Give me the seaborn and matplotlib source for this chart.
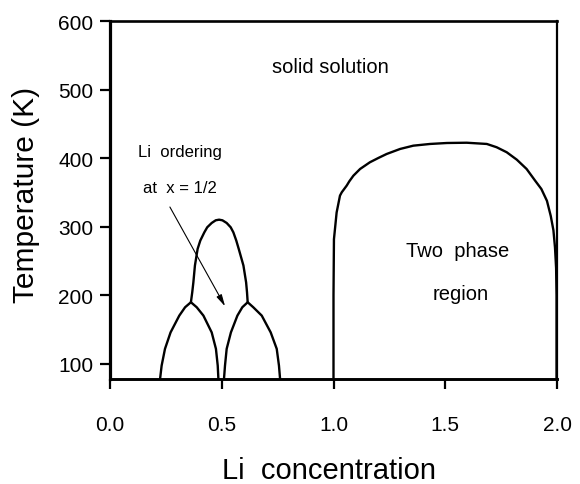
import matplotlib
matplotlib.use("Agg")
import matplotlib.pyplot as plt
import seaborn as sns
import pandas as pd

# ---- data ----
central_x = [0.362, 0.368, 0.373, 0.380, 0.392, 0.404, 0.422, 0.435, 0.455, 0.473, 0.488,
             0.503, 0.522, 0.540, 0.552, 0.565, 0.576, 0.597, 0.609, 0.613, 0.616]
central_T = [190, 204.6, 219, 243.6, 267.8, 280, 292, 299.4, 305.7, 309.6, 310.5,
             309.6, 305.7, 299.4, 292, 280, 267.8, 243.6, 219, 204.6, 190]

left_x = [0.224, 0.231, 0.246, 0.271, 0.310, 0.336, 0.362, 0.388, 0.418, 0.455, 0.474, 0.482, 0.485]
left_T = [78, 97.5, 122, 146, 170.5, 182.7, 190, 182.7, 170.5, 146, 122, 97.5, 78]

right_x = [0.510, 0.5145, 0.522, 0.541, 0.570, 0.592, 0.616, 0.641, 0.679, 0.719, 0.746, 0.756, 0.761]
right_T = [78, 97.5, 122, 146, 170.5, 182.7, 190, 182.7, 170.5, 146, 122, 97.5, 78]

big_x = [1.0, 1.0, 1.002, 1.014, 1.029, 1.037, 1.059, 1.071, 1.089, 1.119, 1.163, 1.201,
         1.238, 1.298, 1.357, 1.432, 1.507, 1.596, 1.686, 1.730, 1.775, 1.820, 1.864,
         1.902, 1.930, 1.955, 1.972, 1.984, 1.991, 1.996, 1.998, 1.998]
big_T = [78, 200, 282, 321, 345.6, 350.5, 360.2, 366.6, 374.7, 384.5, 394.3, 400.6,
         406.4, 413.7, 418.5, 421, 422.4, 422.8, 421, 416.2, 408.9, 398.1, 384.5,
         367.5, 355.3, 338, 316, 295, 270, 240, 200, 78]

x_ticks = [0.0, 0.5, 1.0, 1.5, 2.0]
x_ticklabels = ["0.0", "0.5", "1.0", "1.5", "2.0"]
y_ticks = [100, 200, 300, 400, 500, 600]

arrow_start = (0.268, 329)
arrow_end = (0.515, 184)

# ---- build table ----
frames = []
for name, xs, ts in [("central", central_x, central_T), ("left", left_x, left_T),
                     ("right", right_x, right_T), ("big", big_x, big_T)]:
    frames.append(pd.DataFrame({"x": xs, "T": ts, "seg": name}))
df = pd.concat(frames, ignore_index=True)

sns.set_style("ticks")
plt.rcParams["font.family"] = ["Liberation Sans", "DejaVu Sans"]
plt.rcParams["text.color"] = "black"
plt.rcParams["axes.labelcolor"] = "black"
plt.rcParams["xtick.color"] = "black"
plt.rcParams["ytick.color"] = "black"

fig = plt.figure(figsize=(5.8, 4.85), dpi=100)
ax = fig.add_axes([110 / 580, 1 - 380 / 485, 447 / 580, (380 - 22.3) / 485])

sns.lineplot(data=df, x="x", y="T", units="seg", estimator=None, sort=False,
             color="black", linewidth=1.7, ax=ax, legend=False)

ax.set_xlim(0, 2)
ax.set_ylim(78, 600)
ax.set_xticks(x_ticks)
ax.set_xticklabels(x_ticklabels)
ax.set_yticks(y_ticks)

for side, lw in [("left", 2.3), ("bottom", 2.1), ("top", 1.9), ("right", 1.6)]:
    ax.spines[side].set_visible(True)
    ax.spines[side].set_linewidth(lw)
    ax.spines[side].set_color("black")

ax.tick_params(axis="x", direction="out", length=7.5, width=1.6, labelsize=15, pad=18.5,
               colors="black", labelcolor="black")
ax.tick_params(axis="y", direction="out", length=7.5, width=1.6, labelsize=15, pad=4.5,
               colors="black", labelcolor="black")

ax.set_xlabel("Li  concentration", fontsize=21, color="black")
ax.xaxis.label.set_va("baseline")
ax.xaxis.set_label_coords(0.491, -0.2768)
ax.set_ylabel("Temperature (K)", fontsize=21.5, color="black")
ax.yaxis.label.set_va("baseline")
ax.yaxis.set_label_coords(-0.171, 0.517)

ax.text(0.985, 526, "solid solution", fontsize=14.5, ha="center", va="baseline")
ax.text(0.313, 404, "Li  ordering", fontsize=12, ha="center", va="baseline")
ax.text(0.313, 351.4, "at  x = 1/2", fontsize=12, ha="center", va="baseline")
ax.text(1.555, 258, "Two  phase", fontsize=14.5, ha="center", va="baseline")
ax.text(1.57, 195, "region", fontsize=14.5, ha="center", va="baseline")

ax.annotate("", xy=arrow_end, xytext=arrow_start,
            arrowprops=dict(arrowstyle="-|>,head_length=0.7,head_width=0.17",
                            color="black", lw=0.8, shrinkA=0, shrinkB=0))

fig.savefig("out.png", dpi=100)
